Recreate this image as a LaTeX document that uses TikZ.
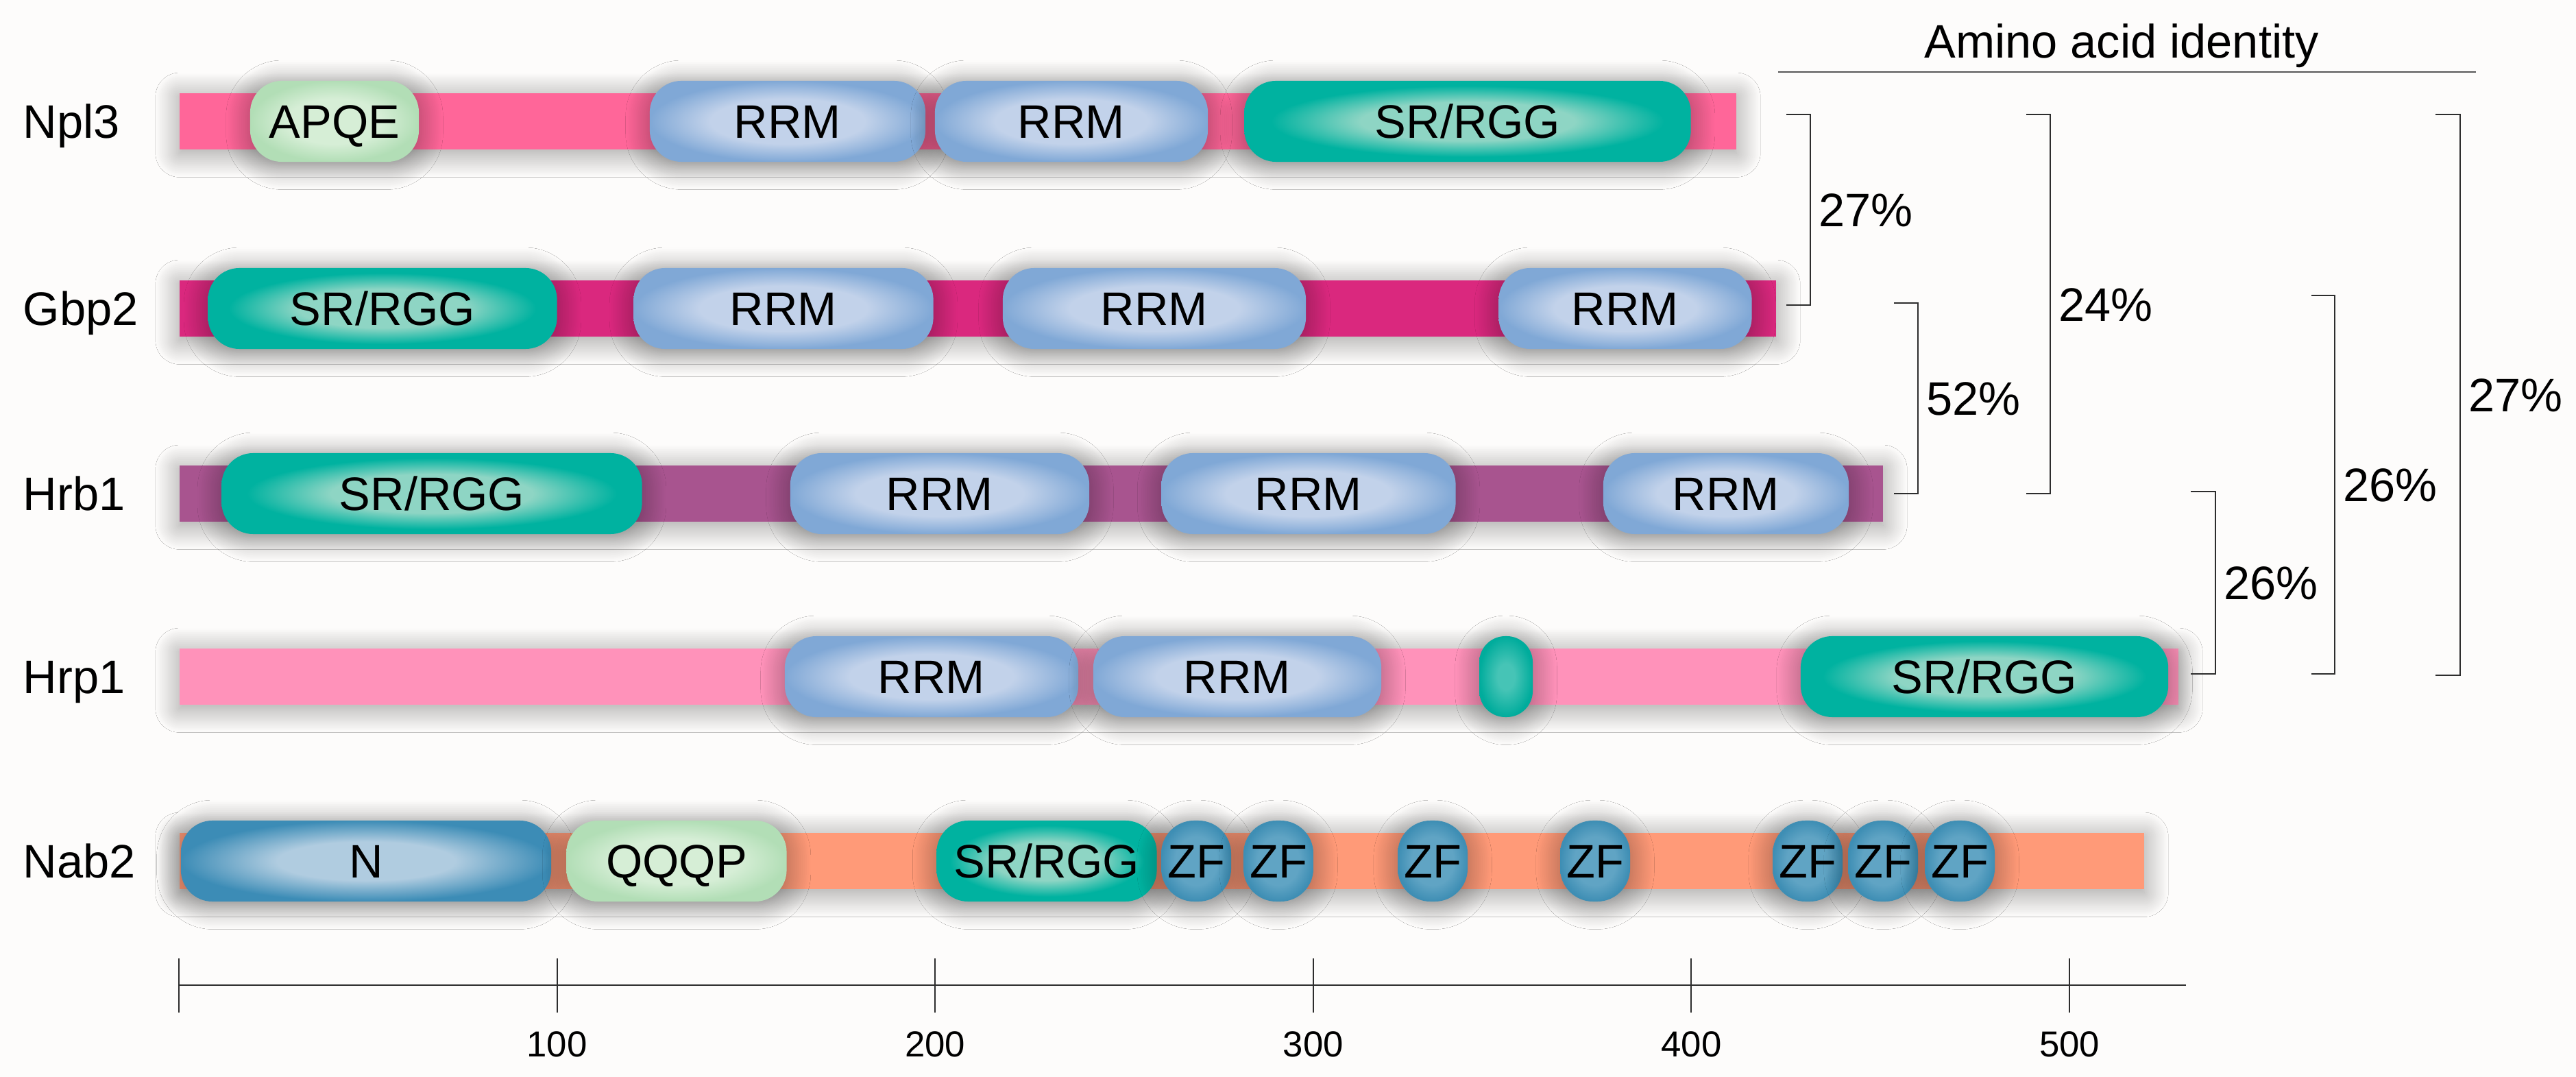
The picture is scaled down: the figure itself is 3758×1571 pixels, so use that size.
\documentclass[tikz,border=0pt]{standalone}
\usepackage{fontspec}
\setmainfont{Liberation Sans}
\usetikzlibrary{shadows,shadows.blur}

\definecolor{pagebg}{RGB}{253,252,251}
\definecolor{npl3col}{RGB}{255,102,153}
\definecolor{gbp2col}{RGB}{218,40,126}
\definecolor{hrb1col}{RGB}{168,84,143}
\definecolor{hrp1col}{RGB}{255,146,186}
\definecolor{nab2col}{RGB}{255,154,120}
\definecolor{rrmin}{RGB}{194,210,234}
\definecolor{rrmout}{RGB}{128,168,214}
\definecolor{srin}{RGB}{142,213,196}
\definecolor{srout}{RGB}{0,178,160}
\definecolor{qin}{RGB}{214,238,214}
\definecolor{qout}{RGB}{178,222,182}
\definecolor{nin}{RGB}{176,204,224}
\definecolor{nout}{RGB}{60,140,182}
\definecolor{zfin}{RGB}{96,164,196}
\definecolor{zfout}{RGB}{62,142,180}
\definecolor{dotin}{RGB}{70,196,182}
\definecolor{dotout}{RGB}{0,172,156}
\definecolor{linecol}{RGB}{45,45,45}

\pgfdeclareradialshading{rrmshade}{\pgfpoint{0bp}{0bp}}{color(0bp)=(rrmin); color(14bp)=(rrmin); color(25bp)=(rrmout); color(50bp)=(rrmout)}
\pgfdeclareradialshading{srshade}{\pgfpoint{0bp}{0bp}}{color(0bp)=(srin); color(12bp)=(srin); color(22bp)=(srout); color(50bp)=(srout)}
\pgfdeclareradialshading{qshade}{\pgfpoint{0bp}{0bp}}{color(0bp)=(qin); color(14bp)=(qin); color(25bp)=(qout); color(50bp)=(qout)}
\pgfdeclareradialshading{nshade}{\pgfpoint{0bp}{0bp}}{color(0bp)=(nin); color(12bp)=(nin); color(25bp)=(nout); color(50bp)=(nout)}
\pgfdeclareradialshading{zfshade}{\pgfpoint{0bp}{0bp}}{color(0bp)=(zfin); color(15bp)=(zfin); color(25bp)=(zfout); color(50bp)=(zfout)}
\pgfdeclareradialshading{dotshade}{\pgfpoint{0bp}{0bp}}{color(0bp)=(dotin); color(8bp)=(dotin); color(25bp)=(dotout); color(50bp)=(dotout)}

\begin{document}
\begin{tikzpicture}[x=0.01cm,y=-0.01cm,font=\fontsize{19.5}{23}\selectfont,
  txt/.style={inner sep=0pt,text height=0.49cm,text depth=0pt},
  soft/.style={blur shadow={shadow xshift=0pt,shadow yshift=-1.5pt,shadow blur radius=10pt,shadow blur steps=24,shadow opacity=40}},
  dom/.style={txt,soft,rectangle,rounded corners=0.46cm,minimum height=1.18cm,shade},
  rrm/.style={dom,shading=rrmshade,minimum width=#1},
  srrgg/.style={dom,shading=srshade,minimum width=#1},
  qrich/.style={dom,shading=qshade,minimum width=#1},
  ndom/.style={dom,shading=nshade,minimum width=#1},
  zf/.style={dom,rounded corners=0.48cm,shading=zfshade,minimum width=1.02cm},
  bracket/.style={draw=linecol,line width=0.7pt},
  pct/.style={txt,anchor=west,xshift=0.11cm},
  axis/.style={draw=linecol,line width=0.6pt},
  ticklbl/.style={inner sep=0pt,font=\fontsize{15}{18}\selectfont,text height=0.38cm,text depth=0pt}]
\fill[pagebg] (0,0) rectangle (3758,1571);
\useasboundingbox (0,0) rectangle (3758,1571);

\foreach \nm/\yy/\xe/\col in %
{Npl3/177/2533/npl3col,Gbp2/450/2591/gbp2col,Hrb1/720/2747/hrb1col,Hrp1/987/3178/hrp1col,Nab2/1256/3128/nab2col} {
   \node[txt,anchor=west] (name\nm) at (33,\yy) {\nm};
   \fill[soft,\col] (262,\yy-41) rectangle (\xe,\yy+41);
}

% Npl3
\node[qrich=2.46cm] (apqe) at (488,177) {APQE};
\node[rrm=4.02cm] (npl3rrm1) at (1149,177) {RRM};
\node[rrm=3.98cm] (npl3rrm2) at (1563,177) {RRM};
\node[srrgg=6.51cm] (npl3sr) at (2141,177) {SR/RGG};
% Gbp2
\node[srrgg=5.09cm] (gbp2sr) at (558,450) {SR/RGG};
\node[rrm=4.37cm] (gbp2rrm1) at (1143,450) {RRM};
\node[rrm=4.42cm] (gbp2rrm2) at (1684,450) {RRM};
\node[rrm=3.69cm] (gbp2rrm3) at (2371,450) {RRM};
% Hrb1
\node[srrgg=6.13cm] (hrb1sr) at (630,720) {SR/RGG};
\node[rrm=4.36cm] (hrb1rrm1) at (1371,720) {RRM};
\node[rrm=4.29cm] (hrb1rrm2) at (1909,720) {RRM};
\node[rrm=3.58cm] (hrb1rrm3) at (2518,720) {RRM};
% Hrp1
\node[rrm=4.28cm] (hrp1rrm1) at (1359,987) {RRM};
\node[rrm=4.20cm] (hrp1rrm2) at (1805,987) {RRM};
\node[dom,rounded corners=0.38cm,shading=dotshade,minimum width=0.78cm] (hrp1dot) at (2197,987) {};
\node[srrgg=5.36cm] (hrp1sr) at (2895,987) {SR/RGG};
% Nab2
\node[ndom=5.40cm] (nab2n) at (534,1256) {N};
\node[qrich=3.21cm] (qqqp) at (987,1256) {QQQP};
\node[srrgg=3.21cm] (nab2sr) at (1527,1256) {SR/RGG};
\foreach \zx [count=\i] in {1745,1865,2090,2327,2637,2747,2859}
   \node[zf] (zf\i) at (\zx,1256) {ZF};

% identity brackets
\node[txt] (title) at (3095,60) {Amino acid identity};
\draw[line width=0.6pt,draw=linecol!80] (2594,105) -- (3612,105);
\coordinate (b1t) at (2606,167); \coordinate (b1b) at (2606,445);
\coordinate (b2t) at (2763,442); \coordinate (b2b) at (2763,720);
\coordinate (b3t) at (2956,167); \coordinate (b3b) at (2956,720);
\coordinate (b4t) at (3196,717); \coordinate (b4b) at (3196,983);
\coordinate (b5t) at (3372,431); \coordinate (b5b) at (3372,983);
\coordinate (b6t) at (3553,167); \coordinate (b6b) at (3553,985);
\draw[bracket] (b1t) -- ++(35,0) |- node[pct,pos=0.25] (p1) {27\%} (b1b);
\draw[bracket] (b2t) -- ++(35,0) |- node[pct,pos=0.25] (p2) {52\%} (b2b);
\draw[bracket] (b3t) -- ++(35,0) |- node[pct,pos=0.25] (p3) {24\%} (b3b);
\draw[bracket] (b4t) -- ++(36,0) |- node[pct,pos=0.25] (p4) {26\%} (b4b);
\draw[bracket] (b5t) -- ++(34,0) |- node[pct,pos=0.25] (p5) {26\%} (b5b);
\draw[bracket] (b6t) -- ++(36,0) |- node[pct,pos=0.25] (p6) {27\%} (b6b);

% scale
\draw[axis] (261,1437) -- (3189,1437);
\foreach \k in {0,...,5}
   \draw[axis] (261+551.6*\k,1398) -- (261+551.6*\k,1477);
\foreach \k/\lab in %
{1/100,2/200,3/300,4/400,5/500} {
   \node[ticklbl] (tick\lab) at (261+551.6*\k,1522) {\lab};
}
\end{tikzpicture}
\end{document}
